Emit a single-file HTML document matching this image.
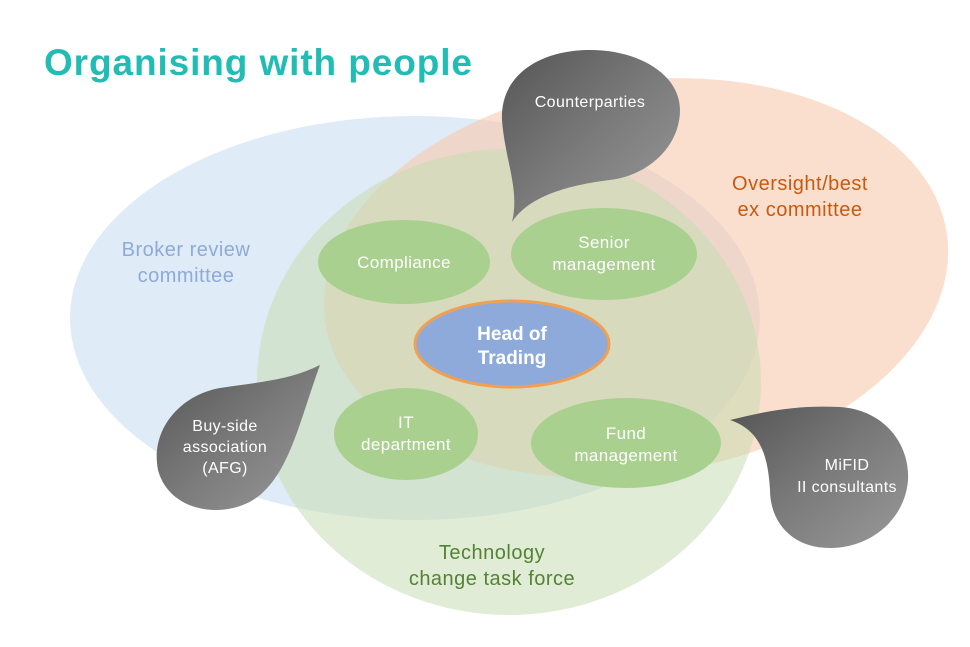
<!DOCTYPE html>
<html><head><meta charset="utf-8"><style>
html,body{margin:0;padding:0;background:#fff;}
svg{display:block;font-family:"Century Gothic","Liberation Sans",sans-serif;}
</style></head><body>
<svg width="970" height="647" viewBox="0 0 970 647" xmlns="http://www.w3.org/2000/svg">
<defs>
<linearGradient id="g" x1="0" y1="0" x2="1" y2="1">
<stop offset="0" stop-color="#555"/><stop offset="0.5" stop-color="#7a7a7a"/><stop offset="1" stop-color="#9a9a9a"/>
</linearGradient>
</defs>
<rect width="970" height="647" fill="#fff"/>
<text x="44" y="75" font-size="37" font-weight="bold" fill="#21bdb5" letter-spacing="0.9">Organising with people</text>
<ellipse cx="415" cy="318" rx="345" ry="202" fill="#c9def0" opacity="0.6"/>
<ellipse cx="636" cy="278" rx="314" ry="197" transform="rotate(-8 636 278)" fill="#f9c9ad" opacity="0.6"/>
<ellipse cx="509" cy="382" rx="252" ry="233" fill="#c7dcb2" opacity="0.55"/>
<g letter-spacing="0.5">
<text font-size="20" fill="#8eaadb" text-anchor="middle"><tspan x="186" y="256">Broker review</tspan><tspan x="186" y="282">committee</tspan></text>
<text font-size="20" fill="#c55a11" text-anchor="middle"><tspan x="800" y="190">Oversight/best</tspan><tspan x="800" y="216">ex committee</tspan></text>
<text font-size="20" fill="#548235" text-anchor="middle"><tspan x="492" y="559">Technology</tspan><tspan x="492" y="585">change task force</tspan></text>
</g>
<g fill="#a9d08e">
<ellipse cx="404" cy="262" rx="86" ry="42"/>
<ellipse cx="604" cy="254" rx="93" ry="46"/>
<ellipse cx="406" cy="434" rx="72" ry="46"/>
<ellipse cx="626" cy="443" rx="95" ry="45"/>
</g>
<g font-size="17" fill="#fff" text-anchor="middle" letter-spacing="0.4">
<text x="404" y="268">Compliance</text>
<text x="604" y="248">Senior</text><text x="604" y="270">management</text>
<text x="406" y="428">IT</text><text x="406" y="450">department</text>
<text x="626" y="439">Fund</text><text x="626" y="461">management</text>
</g>
<ellipse cx="512" cy="344" rx="97" ry="43" fill="#8eaadb" stroke="#f0a050" stroke-width="3"/>
<text font-size="19" font-weight="bold" fill="#fff" text-anchor="middle"><tspan x="512" y="340">Head of</tspan><tspan x="512" y="364">Trading</tspan></text>
<path d="M512,222 C520,190 505,160 502,120 C500,75 540,50 590,50 C640,50 680,75 680,110 C680,145 650,175 610,180 C570,185 530,195 512,222 Z" fill="url(#g)"/>
<path d="M320,365 C300,420 290,470 260,495 C230,520 170,515 158,470 C150,430 180,395 220,388 C260,382 290,380 320,365 Z" fill="url(#g)"/>
<path d="M730,420 C770,410 800,405 840,407 C885,410 910,445 908,480 C905,520 870,548 830,548 C790,548 770,520 770,490 C768,455 760,430 730,420 Z" fill="url(#g)"/>
<g font-size="16" fill="#fff" text-anchor="middle" letter-spacing="0.4">
<text x="590" y="107">Counterparties</text>
<text x="225" y="431">Buy-side</text><text x="225" y="452">association</text><text x="225" y="473">(AFG)</text>
<text x="847" y="470">MiFID</text><text x="847" y="492">II consultants</text>
</g>
</svg>
</body></html>
